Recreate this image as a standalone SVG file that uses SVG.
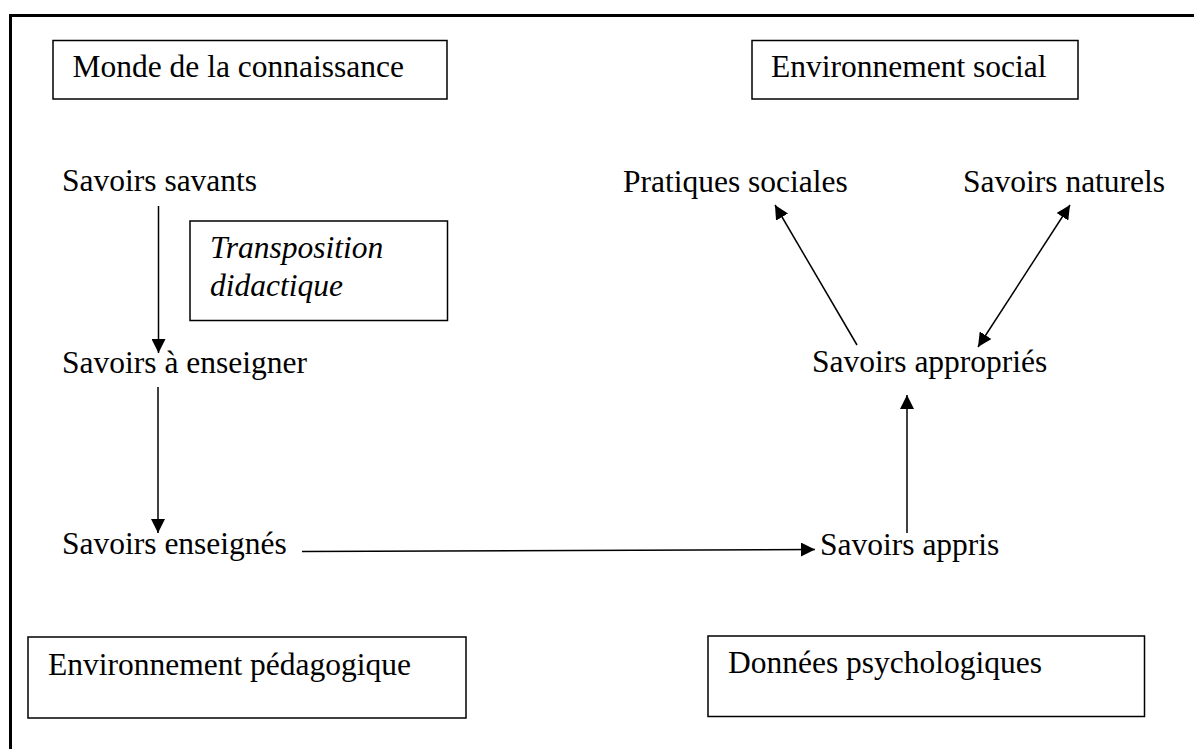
<svg xmlns="http://www.w3.org/2000/svg" width="1194" height="749" viewBox="0 0 1194 749">
<style>
.bg{fill:#fff}
.frame{fill:none;stroke:#000;stroke-width:3}
.box{fill:#fff;stroke:#000;stroke-width:1.5}
.t{font-family:"Liberation Serif","Times New Roman",serif;font-size:31.5px;fill:#000}
.i{font-style:italic}
.c{stroke:#000;stroke-width:1.5;fill:none}
</style>
<defs>
<marker id="ah" viewBox="0 0 14 14" refX="14" refY="7" markerWidth="14" markerHeight="14" markerUnits="userSpaceOnUse" orient="auto-start-reverse">
<path d="M0,0 L14,7 L0,14 Z" fill="#000"/>
</marker>
</defs>
<rect class="bg" x="0" y="0" width="1194" height="749"/>
<rect class="frame" x="10.5" y="15.5" width="1200" height="800"/>

<g id="monde">
<rect class="box" x="53" y="40.5" width="394" height="58.5"/>
<text class="t" x="72.5" y="77">Monde de la connaissance</text>
</g>
<g id="env-social">
<rect class="box" x="752" y="40.5" width="326" height="58.5"/>
<text class="t" x="771" y="77">Environnement social</text>
</g>
<g id="savoirs-savants">
<text class="t" x="62" y="191">Savoirs savants</text>
</g>
<g id="transposition">
<rect class="box" x="190" y="221" width="257.5" height="99.5"/>
<text class="t i" x="210" y="257.5">Transposition</text>
<text class="t i" x="210" y="296">didactique</text>
</g>
<g id="savoirs-a-enseigner">
<text class="t" x="62" y="372.5">Savoirs à enseigner</text>
</g>
<g id="savoirs-enseignes">
<text class="t" x="62" y="554">Savoirs enseignés</text>
</g>
<g id="pratiques-sociales">
<text class="t" x="623" y="192">Pratiques sociales</text>
</g>
<g id="savoirs-naturels">
<text class="t" x="963" y="192">Savoirs naturels</text>
</g>
<g id="savoirs-appropries">
<text class="t" x="812" y="372">Savoirs appropriés</text>
</g>
<g id="savoirs-appris">
<text class="t" x="820" y="555">Savoirs appris</text>
</g>
<g id="env-pedagogique">
<rect class="box" x="28" y="637" width="438" height="81"/>
<text class="t" x="48" y="675">Environnement pédagogique</text>
</g>
<g id="donnees-psycho">
<rect class="box" x="708" y="636" width="436.5" height="80.5"/>
<text class="t" x="728" y="673">Données psychologiques</text>
</g>

<g id="connectors">
<line class="c" x1="158.5" y1="206" x2="158.5" y2="353" marker-end="url(#ah)"/>
<line class="c" x1="158" y1="387" x2="158" y2="533" marker-end="url(#ah)"/>
<line class="c" x1="302" y1="551.5" x2="815" y2="549.5" marker-end="url(#ah)"/>
<line class="c" x1="907" y1="533" x2="907" y2="395" marker-end="url(#ah)"/>
<line class="c" x1="857" y1="345" x2="775" y2="205" marker-end="url(#ah)"/>
<line class="c" x1="978" y1="347" x2="1070" y2="205" marker-start="url(#ah)" marker-end="url(#ah)"/>
</g>
</svg>
